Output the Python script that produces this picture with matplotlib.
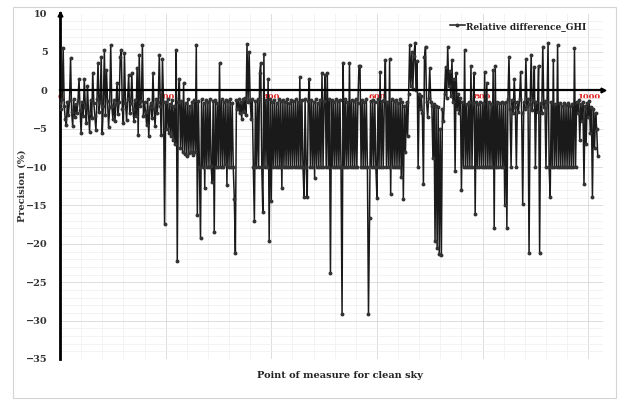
import numpy as np
from matplotlib import pyplot as plt
from matplotlib.patches import Rectangle
from matplotlib.ticker import MultipleLocator

# Relative difference (%), one value every 2 points of measure
step = 2
rel_diff = [
    -1.6, -2.5, -1.2, 5.5, -2.0, -3.8, -4.5, -1.5, -3.2, -1.3,
    4.2, -2.8, -4.7, -1.2, -3.5, -1.8, -3.0, -1.4, 1.5, -2.6,
    -5.6, -1.5, -3.3, 1.5, -2.2, -4.2, 0.6, -3.0, -5.4, -1.3,
    -3.6, 2.3, -1.6, -3.4, -5.2, -1.2, 3.6, -2.8, -1.5, 4.3,
    -5.5, -2.0, 5.2, -3.2, 2.6, -1.4, -4.8, -2.2, 5.9, -2.0,
    -3.7, -1.3, -4.0, -1.8, 1.0, -3.1, -1.5, 4.3, 5.2, -2.4,
    -4.3, 4.8, -1.6, -3.9, -1.2, 2.0, -3.0, -1.7, 2.2, -2.5,
    -4.0, -1.3, -3.3, 2.9, -5.8, 4.6, -2.1, -1.4, 5.9, -3.4,
    -1.5, -2.8, -4.5, -1.2, -6.0, -2.2, -1.6, -3.6, 2.2, -2.4,
    -4.7, -1.2, -3.0, -1.5, 4.6, -2.0, -5.8, 4.1, -1.5, -17.4,
    -1.5, -5.0, -1.2, -5.5, -1.8, -6.0, -1.3, -6.5, -2.0, -7.0,
    5.2, -22.2, -1.5, 1.5, -7.5, -1.4, -8.0, 0.9, -8.3, -1.6,
    -8.5, -1.2, -8.2, -2.0, -8.0, -1.5, -8.4, -1.3, -8.1, 5.9,
    -16.3, -1.4, -10.0, -19.3, -1.2, -10.0, -1.6, -12.7, -1.3, -10.0,
    -1.5, -10.0, -1.2, -9.8, -12.0, -1.4, -18.5, -1.3, -10.0, -1.6,
    -10.0, 3.5, -10.0, -1.2, -10.0, -1.5, -9.6, -1.3, -12.4, -1.4,
    -10.0, -1.2, -10.0, -1.6, -10.0, -14.1, -21.2, -1.3, -2.5, -1.2,
    -3.0, -1.5, -3.7, -1.2, -2.8, -1.0, -3.2, 6.0, -1.5, 5.0,
    -1.3, -3.7, -1.2, -10.0, -17.0, -1.4, -10.0, -1.2, -10.0, 2.2,
    3.6, -10.0, -15.9, 4.7, -10.0, -1.3, -10.0, 1.5, -19.6, -1.2,
    -14.4, -1.5, -10.0, -1.3, -10.0, -1.6, -10.0, -1.2, -10.0, -1.4,
    -12.7, -1.3, -10.0, -1.5, -10.0, -1.2, -10.0, -1.6, -10.0, -1.3,
    -10.0, -1.4, -10.0, -1.2, -10.0, -1.5, -10.0, 1.7, -10.0, -1.3,
    -10.0, -13.9, -1.2, -10.0, -13.9, -1.4, 1.5, -10.0, -1.3, -10.0,
    -1.5, -11.4, -1.2, -10.0, -1.6, -10.0, -1.3, -10.0, 2.2, -10.0,
    -1.4, 2.0, -10.0, 2.2, -10.0, -1.2, -23.8, -1.3, -10.0, -1.5,
    -10.0, -1.2, -10.0, -1.4, -10.0, -1.3, -10.0, -29.1, 3.6, -10.0,
    -1.2, -10.0, -1.5, -10.0, 3.6, -10.0, -1.3, -10.0, -1.4, -10.0,
    -1.2, -10.0, -1.6, 3.2, 3.2, -10.0, -1.3, -10.0, -1.5, -10.0,
    -1.2, -10.0, -29.1, -16.7, -1.4, -10.0, -1.3, -10.0, -1.5, -10.0,
    -14.0, -1.2, -10.0, 2.4, -10.0, -1.4, -10.0, -1.3, 3.9, -10.0,
    -1.5, -10.0, 4.1, -13.5, -1.2, -10.0, -1.4, -10.0, -1.3, -10.0,
    -1.6, -10.0, -1.2, -11.3, -1.5, -14.1, -2.0, -8.0, -1.5, -6.0,
    -0.5, 5.9, 0.5, 5.0, 0.2, 4.5, 6.1, 0.0, 3.8, -10.0,
    -0.5, -2.5, -0.8, -3.0, -12.2, 4.3, 5.7, -1.5, -3.5, -1.0,
    2.9, -1.5, -2.0, -8.8, -1.8, -19.6, -2.0, -20.5, -2.2, -21.3,
    -5.0, -21.5, -2.5, -4.0, -0.5, 3.0, -1.0, 5.7, 0.5, 2.5,
    -0.8, 3.9, -1.5, 1.5, -10.5, 2.2, -2.5, -0.5, -3.0, -1.0,
    -13.0, -1.5, -10.0, 5.2, -10.0, -1.8, -10.0, -1.5, -10.0, 3.2,
    -10.0, -1.6, 2.2, -16.1, -1.5, -10.0, -1.8, -10.0, -1.5, -10.0,
    -1.7, -10.0, 2.4, -10.0, 1.0, -10.0, -1.5, -10.0, -1.8, -10.0,
    2.6, -18.0, 3.2, -10.0, -1.5, -10.0, -1.7, -10.0, -1.5, -10.0,
    -1.6, -15.0, -1.5, -17.9, -1.2, 4.3, -2.5, -10.0, -1.3, -3.0,
    1.5, -2.2, -10.0, -1.5, -2.8, -1.2, 2.4, -3.0, -14.8, -1.5,
    -2.5, 4.1, -2.0, -1.2, -21.2, -1.8, 4.6, -2.6, -1.3, 3.0,
    -10.0, -1.5, -2.8, 3.2, -21.2, -1.6, -3.0, 5.7, -2.2, -1.4,
    -10.0, -1.5, 6.1, -10.0, -13.9, -1.5, -10.0, 3.9, -10.0, -1.8,
    -10.0, 5.9, -10.0, -1.6, -10.0, -2.0, -10.0, -1.7, -10.0, -1.9,
    -10.0, -1.6, -10.0, -2.0, -10.0, -1.8, -10.0, 5.5, -10.0, -1.5,
    -3.0, -1.3, -6.5, -1.8, -4.0, -1.5, -12.2, -2.0, -7.0, -1.6,
    -3.5, -1.4, -5.5, -2.2, -13.9, -2.5, -7.5, -3.0, -5.0, -8.5,
]
x_ticks = [0, 200, 400, 600, 800, 1000]
y_ticks = [10, 5, 0, -5, -10, -15, -20, -25, -30, -35]

serif = 'DejaVu Serif'


def main():
    points = np.arange(len(rel_diff)) * step

    fig = plt.figure(figsize=(6.19, 4.01), dpi=100)
    # light chart frame like the spreadsheet export
    fig.patches.append(Rectangle((13 / 619, 3 / 401), 603 / 619, 391 / 401,
                                 transform=fig.transFigure, fill=False,
                                 edgecolor='#d4d4d4', lw=0.8))
    ax = fig.add_axes([60 / 619, 42 / 401, 543 / 619, 345.5 / 401])

    ax.plot(points, rel_diff, color='#1a1a1a', lw=1.1, marker='o', ms=1.8,
            mfc='#333333', mec='#333333',
            label='Relative difference_GHI', zorder=3)

    ax.set_xlim(0, 1028)
    ax.set_ylim(-35, 10)
    ax.set_yticks(y_ticks)
    ax.set_xticks(x_ticks)
    ax.xaxis.set_minor_locator(MultipleLocator(40))
    ax.yaxis.set_minor_locator(MultipleLocator(1))
    ax.grid(which='major', color='#d8d8d8', lw=0.6, zorder=0)
    ax.grid(which='minor', color='#eeeeee', lw=0.5, zorder=0)

    # category axis crosses at 0
    for s in ['top', 'right']:
        ax.spines[s].set_visible(False)
    ax.spines['bottom'].set_position(('data', 0))
    ax.spines['bottom'].set_linewidth(1.6)
    ax.spines['bottom'].set_zorder(4)
    ax.spines['left'].set_linewidth(2.0)
    ax.plot(1, 0, '>', color='black', ms=3.5, transform=ax.get_yaxis_transform(),
            clip_on=False, zorder=5)
    ax.plot(0, 1, '^', color='black', ms=3.5, transform=ax.transAxes,
            clip_on=False, zorder=5)

    ax.tick_params(which='both', length=0)
    ax.tick_params(axis='x', pad=2, labelcolor='#e0201c', labelsize=6)
    ax.tick_params(axis='y', pad=9, labelsize=7)
    for lab in ax.get_yticklabels():
        lab.set_fontfamily(serif)
        lab.set_fontweight('bold')
        lab.set_color('#333333')
    for lab in ax.get_xticklabels():
        lab.set_fontfamily(serif)
        lab.set_fontweight('bold')
        lab.set_zorder(6)

    ax.set_xlabel('Point of measure for clean sky', fontfamily=serif,
                  fontweight='bold', fontsize=7, color='#222222')
    ax.xaxis.set_label_coords(0.516, -0.035)
    ax.set_ylabel('Precision (%)', fontfamily=serif, fontweight='bold',
                  fontsize=7, color='#333333')
    ax.yaxis.set_label_coords(-0.062, 0.5)

    leg = ax.legend(loc='upper right', bbox_to_anchor=(0.985, 1.0), frameon=False,
                    handlelength=1.6, handletextpad=0.2,
                    prop={'family': serif, 'weight': 'bold', 'size': 6.5})
    for t in leg.get_texts():
        t.set_color('#222222')

    fig.savefig('out.png', dpi=100)


if __name__ == "__main__":
    main()
